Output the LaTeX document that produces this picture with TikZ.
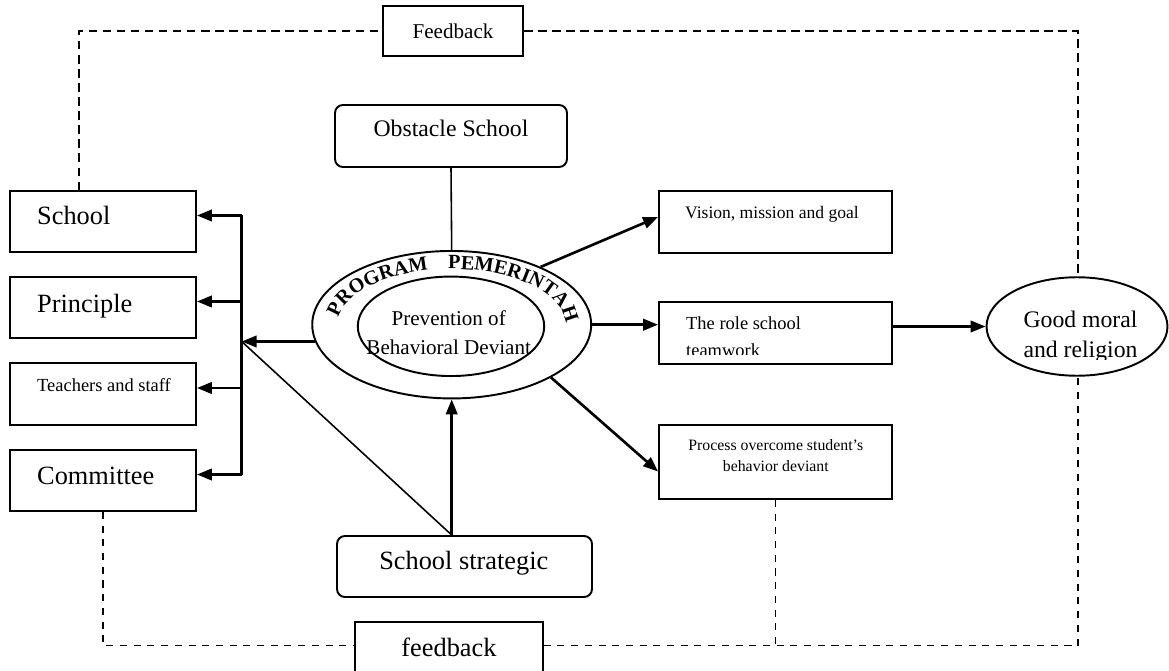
\documentclass[tikz,border=0pt]{standalone}
\usepackage{fontspec}
\setmainfont{Liberation Serif}
\usetikzlibrary{calc}
\usetikzlibrary{arrows.meta}
\usetikzlibrary{shapes.geometric}
\usetikzlibrary{decorations.text}

\begin{document}
\begin{tikzpicture}[x=0.02cm, y=0.02cm,
  box/.style={draw, line width=1.1pt, rectangle, inner sep=0pt},
  rbox/.style={box, rounded corners=4.5pt},
  oval/.style={draw, line width=1.1pt, ellipse, inner sep=0pt},
  arr/.style={line width=1.5pt, -{Triangle[length=8.5pt, width=6.5pt]}},
  thinline/.style={line width=0.9pt},
  fbtop/.style={line width=1pt, dash pattern=on 4.8pt off 3.2pt},
  fbbot/.style={line width=0.8pt, dash pattern=on 4pt off 3.8pt},
  bigtext/.style={font=\fontsize{15}{18}\selectfont},
  midtext/.style={font=\fontsize{13.5}{16}\selectfont},
  normtext/.style={font=\fontsize{12}{14}\selectfont},
  smalltext/.style={font=\fontsize{10.5}{12.5}\selectfont},
  tinytext/.style={font=\fontsize{9}{11}\selectfont}
]
\useasboundingbox (0,0) rectangle (1169,670);
\clip (0,0) rectangle (1169,670);

\node[box, normtext, minimum width=2.81cm, minimum height=0.99cm] (fbA) at (453,639) {Feedback};
\node[box, bigtext, minimum width=3.75cm, minimum height=1.04cm] (fbB) at (449,22.3) {feedback};

\node[rbox, minimum width=4.64cm, minimum height=1.24cm] (obstacle) at (451,534) {};
\node[midtext, anchor=base] (obstacletxt) at (451,533.3) {Obstacle School};

\node[box, minimum width=3.72cm, minimum height=1.22cm] (school) at (103,448.5) {};
\node[bigtext, anchor=base west] (schooltxt) at (31,445) {School};
\node[box, minimum width=3.72cm, minimum height=1.22cm] (principle) at (103,362.5) {};
\node[bigtext, anchor=base west] (principletxt) at (31,357.3) {Principle};
\node[box, minimum width=3.72cm, minimum height=1.24cm] (teachers) at (103,276) {};
\node[smalltext, anchor=base west] (teacherstxt) at (31,278.3) {Teachers and staff};
\node[box, minimum width=3.72cm, minimum height=1.22cm] (committee) at (103,189.5) {};
\node[bigtext, anchor=base west] (committeetxt) at (31,186) {Committee};

\node[oval, minimum width=5.58cm, minimum height=2.95cm] (prog) at (451.7,345.3) {};
\node[oval, minimum width=3.73cm, minimum height=1.99cm] (prev) at (451,343.7) {};
\node[normtext, anchor=base] (prevtxtA) at (448.7,344.3) {Prevention of};
\node[normtext, anchor=base] (prevtxtB) at (448.7,316) {Behavioral Deviant};
\path[decorate, decoration={text along path, text align=center,
  text={|\bfseries\fontsize{11.5}{13}\selectfont|PROGRAM}}]
  (451.5,345) ++(176:114 and 56) arc[start angle=176, end angle=100, x radius=114, y radius=56];
\path[decorate, decoration={text along path, text align=center,
  text={|\bfseries\fontsize{11.5}{13}\selectfont|PEMERINTAH}}]
  (451.5,345) ++(91:114 and 56) arc[start angle=91, end angle=3, x radius=114, y radius=56];

\node[box, minimum width=4.66cm, minimum height=1.24cm] (vision) at (775.5,448) {};
\node[font=\fontsize{10}{12}\selectfont, anchor=base] (visiontxt) at (772,451.7) {Vision, mission and goal};
\node[box, minimum width=4.66cm, minimum height=1.24cm] (role) at (775.5,337) {};
\node[smalltext, anchor=base west] (roletxtA) at (680,340) {The role school};
\begin{scope}
  \clip (660,316) rectangle (890,330);
  \node[smalltext, anchor=base west] (roletxtB) at (680,314) {teamwork};
\end{scope}
\node[box, minimum width=4.66cm, minimum height=1.48cm] (process) at (775.5,208) {};
\node[tinytext, anchor=base] (processtxtA) at (775.8,220) {Process overcome student’s};
\node[tinytext, anchor=base] (processtxtB) at (775.8,198.3) {behavior deviant};

\node[oval, minimum width=3.62cm, minimum height=1.97cm] (good) at (1077,343.5) {};
\node[midtext, anchor=base] (goodtxtA) at (1080.5,342.3) {Good moral};
\begin{scope}
  \clip (990,311) rectangle (1165,335);
  \node[midtext, anchor=base] (goodtxtB) at (1080.5,312.3) {and religion};
\end{scope}

\node[rbox, minimum width=5.1cm, minimum height=1.22cm] (strategic) at (464.5,103.5) {};
\node[bigtext, anchor=base] (strategictxt) at (463.8,100.7) {School strategic};

\coordinate (bus) at (241.7,329.3);
\draw[thinline] (obstacle.south) -- (prog.north);
\draw[arr] (prog.187) -- (prog.187 -| bus);
\foreach \n in {school,principle,teachers,committee}{
  \coordinate (\n-in) at ([yshift=0.12cm]\n.east);
  \draw[arr] (\n-in -| bus) -- (\n-in);
}
\draw[line width=1.5pt] (school-in -| bus) -- (committee-in -| bus);
\draw[thinline] (prog.187 -| bus) -- (prog.south |- strategic.north);
\draw[arr] (prog.south |- strategic.north) -- (prog.south);
\draw[arr] (prog.33) -- ([yshift=0.1cm]vision.west);
\draw[arr] (prog.east) -- (prog.east -| role.west);
\draw[arr] (prog.-28) -- ([yshift=-0.19cm]process.west);
\draw[arr] (good.west -| role.east) -- (good.west);

\coordinate (tl) at (79,639);
\coordinate (tr) at (1078,639);
\coordinate (br) at (1078,24.3);
\draw[fbtop] (school.north -| tl) -- (tl) -- (fbA.west);
\draw[fbtop] (fbA.east) -- (tr) -- (tr |- good.north);
\draw[fbbot] (committee.south) -- (committee.south |- br) -- (fbB.west |- br);
\draw[fbbot] (fbB.east |- br) -- (br) -- (br |- good.south);
\draw[fbbot] (process.south) -- (process.south |- br);

\end{tikzpicture}
\end{document}
